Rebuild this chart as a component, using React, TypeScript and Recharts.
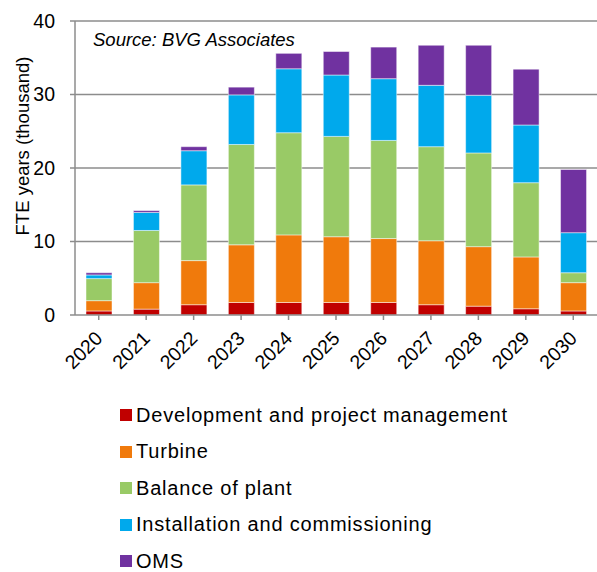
import { BarChart, Bar, XAxis, YAxis, CartesianGrid, Legend } from "recharts";

const years = ["2020", "2021", "2022", "2023", "2024", "2025", "2026", "2027", "2028", "2029", "2030"];
const development = [0.55, 0.8, 1.4, 1.7, 1.7, 1.7, 1.7, 1.4, 1.2, 0.85, 0.55];
const turbine = [1.4, 3.6, 6.0, 7.85, 9.2, 8.95, 8.7, 8.7, 8.1, 7.05, 3.85];
const balanceOfPlant = [3.0, 7.1, 10.3, 13.65, 13.9, 13.65, 13.35, 12.8, 12.75, 10.1, 1.35];
const installation = [0.5, 2.45, 4.65, 6.75, 8.7, 8.35, 8.4, 8.35, 7.85, 7.85, 5.45];
const oms = [0.3, 0.25, 0.55, 1.05, 2.1, 3.2, 4.3, 5.45, 6.8, 7.6, 8.6];
const yTicks = [0, 10, 20, 30, 40];

const SERIES = [
  { key: "dev", name: "Development and project management", color: "#C00000" },
  { key: "turbine", name: "Turbine", color: "#F07A0C" },
  { key: "bop", name: "Balance of plant", color: "#99CA66" },
  { key: "install", name: "Installation and commissioning", color: "#00A9EC" },
  { key: "oms", name: "OMS", color: "#7032A0" },
];

const FONT = "'Liberation Sans', Arial, sans-serif";
const GRID = "#8c8c8c";

const data = years.map((year, i) => ({
  year,
  dev: development[i],
  turbine: turbine[i],
  bop: balanceOfPlant[i],
  install: installation[i],
  oms: oms[i],
}));

function YearTick({ x, y, payload }: any) {
  return (
    <g transform={`translate(${x},${y})`}>
      <text
        x={0}
        y={0}
        dx={-9}
        dy={16}
        textAnchor="end"
        transform="rotate(-45)"
        fontSize={19.5}
        fontFamily={FONT}
        fill="#000"
      >
        {payload.value}
      </text>
    </g>
  );
}

function LegendBox() {
  return (
    <div style={{ height: 177, fontFamily: FONT, paddingTop: 2, boxSizing: "border-box" }}>
      {SERIES.map((s) => (
        <div
          key={s.key}
          style={{ height: 36.5, display: "flex", alignItems: "center" }}
        >
          <span
            style={{
              width: 12,
              height: 12,
              background: s.color,
              display: "inline-block",
              marginRight: 4,
              flexShrink: 0,
            }}
          />
          <span style={{ fontSize: 20, letterSpacing: 0.8, color: "#000", whiteSpace: "nowrap" }}>
            {s.name}
          </span>
        </div>
      ))}
    </div>
  );
}

export default function App() {
  return (
    <div style={{ position: "absolute", left: 0, top: 0, background: "#fff" }}>
      <BarChart
        width={597}
        height={572}
        data={data}
        margin={{ top: 21, right: 0, bottom: 0, left: 0 }}
        barSize={26}
      >
        <CartesianGrid
          vertical={false}
          stroke={GRID}
          strokeWidth={1.5}
          horizontalValues={[10, 20, 30, 40]}
        />
        <XAxis
          dataKey="year"
          height={80}
          tick={<YearTick />}
          tickSize={5}
          stroke={GRID}
          strokeWidth={1.5}
          interval={0}
        />
        <YAxis
          width={75}
          domain={[0, 40]}
          ticks={yTicks}
          tickSize={5}
          tickMargin={15}
          stroke={GRID}
          strokeWidth={1.5}
          tick={{ fontSize: 19.5, fill: "#000", fontFamily: FONT }}
          label={{
            content: ({ viewBox }: any) => (
              <text
                x={viewBox.x + 22}
                y={viewBox.y + viewBox.height / 2 - 22}
                transform={`rotate(-90, ${viewBox.x + 22}, ${viewBox.y + viewBox.height / 2 - 22})`}
                textAnchor="middle"
                dominantBaseline="central"
                fontSize={18.5}
                fontFamily={FONT}
                fill="#000"
              >
                FTE years (thousand)
              </text>
            ),
          }}
        />
        <Legend
          verticalAlign="bottom"
          align="left"
          content={<LegendBox />}
          wrapperStyle={{ left: 120, bottom: 0, width: 477 }}
        />
        {SERIES.map((s) => (
          <Bar
            key={s.key}
            dataKey={s.key}
            name={s.name}
            stackId="a"
            fill={s.color}
            stroke="#ffffff"
            strokeOpacity={0.6}
            strokeWidth={0.8}
            isAnimationActive={false}
          />
        ))}
        <text
          x={93}
          y={46}
          fontSize={18.5}
          fontStyle="italic"
          fontFamily={FONT}
          fill="#000"
        >
          Source: BVG Associates
        </text>
      </BarChart>
    </div>
  );
}
